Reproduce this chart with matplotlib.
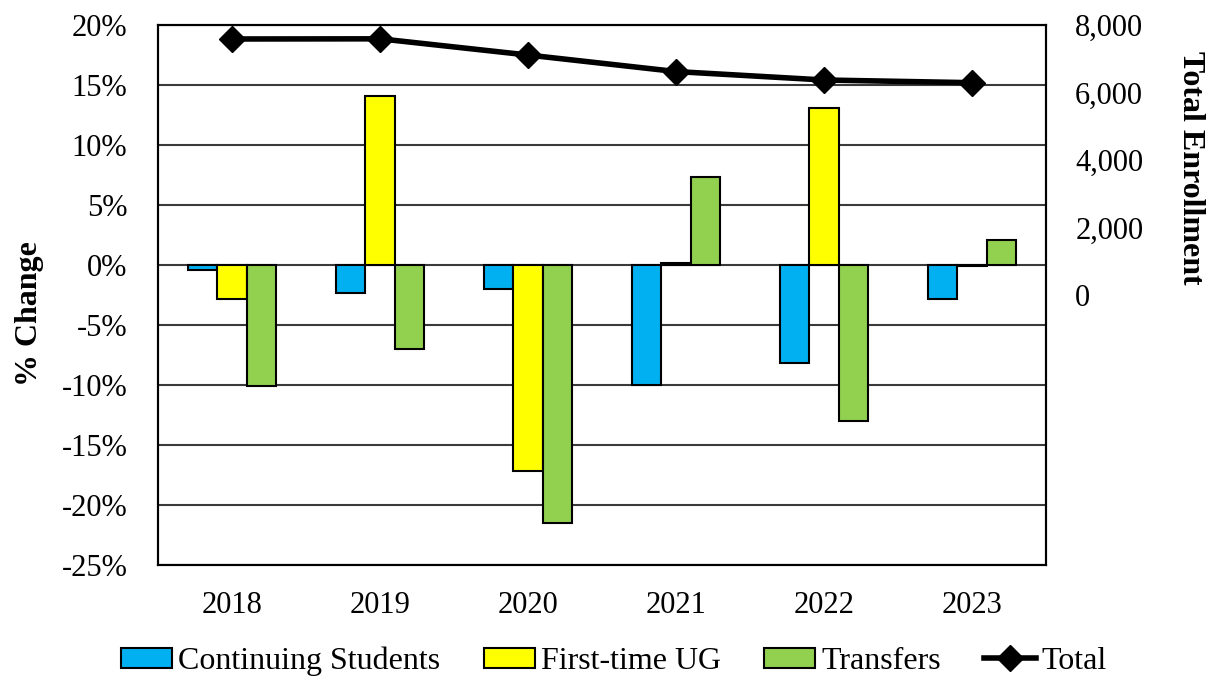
import matplotlib.pyplot as plt
import numpy as np
from matplotlib.ticker import FuncFormatter

plt.rcParams['font.family'] = ['Liberation Serif', 'DejaVu Serif']

years = ['2018', '2019', '2020', '2021', '2022', '2023']
continuing = [-0.4, -2.3, -2.0, -10.0, -8.2, -2.8]
first_time = [-2.8, 14.1, -17.2, 0.2, 13.1, -0.1]
transfers = [-10.1, -7.0, -21.5, 7.3, -13.0, 2.1]
total = [7585, 7590, 7110, 6620, 6370, 6290]

fig = plt.figure(figsize=(12.11, 6.79), dpi=100)
ax = fig.add_axes([0.1305, 0.1679, 0.7333, 0.7953])

x = np.arange(len(years))
w = 0.2
bar_kw = dict(width=w, edgecolor='black', linewidth=1.5, zorder=2)
b1 = ax.bar(x - w, continuing, color='#00B0F0', label='Continuing Students', **bar_kw)
b2 = ax.bar(x, first_time, color='#FFFF00', label='First-time UG', **bar_kw)
b3 = ax.bar(x + w, transfers, color='#92D050', label='Transfers', **bar_kw)

ax.set_xlim(-0.5, len(years) - 0.5)
ax.set_ylim(-25, 20)
ax.set_yticks(np.arange(-25, 21, 5))
ax.yaxis.set_major_formatter(FuncFormatter(lambda v, p: f'{v:.0f}%'))
ax.set_xticks(x)
ax.set_xticklabels(years)
ax.yaxis.grid(True, color='#3a3a3a', linewidth=1.5, zorder=0)
ax.set_axisbelow(True)
ax.tick_params(axis='both', length=0, labelsize=22)
ax.tick_params(axis='y', pad=22)
ax.tick_params(axis='x', pad=19)
for s in ax.spines.values():
    s.set_linewidth(1.5)
    s.set_color('black')
ax.set_ylabel('% Change', fontsize=23, fontweight='bold', va='center')
ax.yaxis.set_label_coords(-0.145, 0.465)

# enrollment totals on a secondary axis, zero lined up a bit below the 0% line
ax2 = ax.twinx()
ln, = ax2.plot(x, total, color='black', linewidth=4, marker='D',
               markersize=13, label='Total', zorder=3)
ax2.set_ylim(-8000, 8000)
ax2.set_yticks(np.arange(0, 8001, 2000))
ax2.yaxis.set_major_formatter(FuncFormatter(lambda v, p: f'{v:,.0f}'))
ax2.tick_params(axis='y', length=0, labelsize=22, pad=21)
for s in ax2.spines.values():
    s.set_linewidth(1.5)
ax2.set_ylabel('Total Enrollment', fontsize=23, fontweight='bold',
               rotation=270, va='center')
ax2.yaxis.set_label_coords(1.163, 0.735)

fig.legend(handles=[b1, b2, b3, ln], loc='lower center', ncol=4,
           frameon=False, fontsize=23, bbox_to_anchor=(0.507, -0.038),
           handlelength=1.6, handleheight=0.6, handletextpad=0.2,
           columnspacing=1.35)

fig.savefig('out.png', dpi=100)
